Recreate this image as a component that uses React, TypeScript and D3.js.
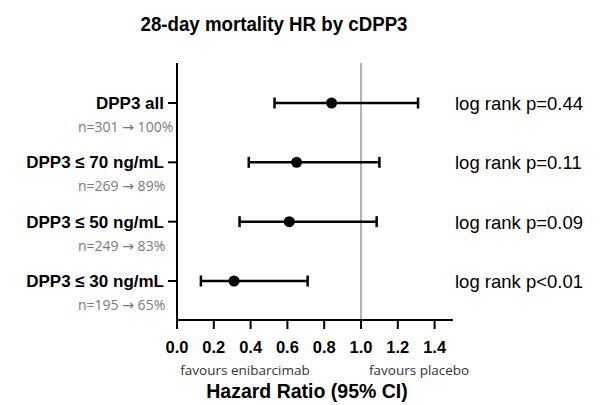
import * as d3 from "d3";
import { useEffect, useRef } from "react";

// subgroups, top to bottom
const groups = ["DPP3 all", "DPP3 ≤ 70 ng/mL", "DPP3 ≤ 50 ng/mL", "DPP3 ≤ 30 ng/mL"];
const counts = ["n=301 → 100%", "n=269 → 89%", "n=249 → 83%", "n=195 → 65%"];
const hr = [0.84, 0.65, 0.61, 0.31];
const ciLow = [0.53, 0.39, 0.34, 0.13];
const ciHigh = [1.31, 1.10, 1.085, 0.71];
const pValues = ["log rank p=0.44", "log rank p=0.11", "log rank p=0.09", "log rank p<0.01"];
const xTicks = [0, 0.2, 0.4, 0.6, 0.8, 1.0, 1.2, 1.4];

export default function App() {
  const ref = useRef<SVGSVGElement>(null);

  useEffect(() => {
    const svg = d3.select(ref.current);
    svg.selectAll("*").remove();

    const left = 177, right = 453, top = 63, bottom = 320;
    const x = d3.scaleLinear().domain([0, 1.5]).range([left, right]);
    const y = d3.scalePoint().domain(groups).range([103, 281]);
    const sans = "Liberation Sans, Arial, sans-serif";

    // title
    svg.append("text")
      .attr("x", 274).attr("y", 31)
      .attr("text-anchor", "middle")
      .attr("font-family", sans)
      .attr("font-weight", "bold").attr("font-size", 21)
      .attr("textLength", 267).attr("lengthAdjust", "spacingAndGlyphs")
      .text("28-day mortality HR by cDPP3");

    // reference line at HR = 1
    svg.append("line")
      .attr("x1", x(1)).attr("x2", x(1))
      .attr("y1", top).attr("y2", bottom)
      .attr("stroke", "#9a9a9a").attr("stroke-width", 1.5);

    // y axis
    svg.append("line")
      .attr("x1", left).attr("x2", left)
      .attr("y1", top).attr("y2", bottom + 1)
      .attr("stroke", "#000").attr("stroke-width", 2);
    svg.selectAll(".ytick").data(groups).join("line")
      .attr("x1", left - 9).attr("x2", left)
      .attr("y1", d => y(d)!).attr("y2", d => y(d)!)
      .attr("stroke", "#000").attr("stroke-width", 2);

    // x axis
    svg.append("line")
      .attr("x1", left - 1).attr("x2", right)
      .attr("y1", bottom).attr("y2", bottom)
      .attr("stroke", "#000").attr("stroke-width", 2);
    svg.selectAll(".xtick").data(xTicks).join("line")
      .attr("x1", d => x(d)).attr("x2", d => x(d))
      .attr("y1", bottom).attr("y2", bottom + 9)
      .attr("stroke", "#000").attr("stroke-width", 2);
    svg.selectAll(".xlabel").data(xTicks).join("text")
      .attr("x", d => x(d)).attr("y", 353)
      .attr("text-anchor", "middle")
      .attr("font-family", sans)
      .attr("font-weight", "bold").attr("font-size", 16.5)
      .text(d => d3.format(".1f")(d));

    svg.append("text")
      .attr("x", 245).attr("y", 375)
      .attr("text-anchor", "middle")
      .attr("font-family", "Open Sans, sans-serif")
      .attr("font-size", 13.5).attr("fill", "#333")
      .text("favours enibarcimab");
    svg.append("text")
      .attr("x", 369).attr("y", 375)
      .attr("font-family", "Open Sans, sans-serif")
      .attr("font-size", 13.5).attr("fill", "#333")
      .text("favours placebo");
    svg.append("text")
      .attr("x", 307).attr("y", 398)
      .attr("text-anchor", "middle")
      .attr("font-family", sans)
      .attr("font-weight", "bold").attr("font-size", 19.5)
      .text("Hazard Ratio (95% CI)");

    // row labels
    svg.selectAll(".glabel").data(groups).join("text")
      .attr("x", 164).attr("y", d => y(d)! + 6)
      .attr("text-anchor", "end")
      .attr("font-family", sans)
      .attr("font-weight", "bold").attr("font-size", 17)
      .text(d => d);
    const nl = svg.selectAll(".nlabel").data(counts).join("text")
      .attr("x", 78).attr("y", (d, i) => y(groups[i])! + 29)
      .attr("font-family", "Open Sans, sans-serif")
      .attr("font-size", 14).attr("fill", "#7a7a7a");
    nl.append("tspan").text(d => d.split("→")[0]);
    nl.append("tspan").attr("font-family", "DejaVu Sans").text("→");
    nl.append("tspan").text(d => d.split("→")[1]);

    // error bars
    const rows = groups.map((g, i) => ({ g, lo: ciLow[i], hi: ciHigh[i], hr: hr[i], p: pValues[i] }));
    const bars = svg.append("g");
    bars.selectAll(".ci").data(rows).join("line")
      .attr("x1", d => x(d.lo)).attr("x2", d => x(d.hi))
      .attr("y1", d => y(d.g)!).attr("y2", d => y(d.g)!)
      .attr("stroke", "#000").attr("stroke-width", 2.5);
    bars.selectAll(".capl").data(rows).join("line")
      .attr("x1", d => x(d.lo)).attr("x2", d => x(d.lo))
      .attr("y1", d => y(d.g)! - 5.5).attr("y2", d => y(d.g)! + 5.5)
      .attr("stroke", "#000").attr("stroke-width", 2.5);
    bars.selectAll(".caph").data(rows).join("line")
      .attr("x1", d => x(d.hi)).attr("x2", d => x(d.hi))
      .attr("y1", d => y(d.g)! - 5.5).attr("y2", d => y(d.g)! + 5.5)
      .attr("stroke", "#000").attr("stroke-width", 2.5);
    bars.selectAll(".pt").data(rows).join("circle")
      .attr("cx", d => x(d.hr)).attr("cy", d => y(d.g)!)
      .attr("r", 5.5).attr("fill", "#000");

    // p-values
    svg.selectAll(".plabel").data(rows).join("text")
      .attr("x", 455).attr("y", d => y(d.g)! + 7)
      .attr("font-family", sans)
      .attr("font-size", 18.5)
      .text(d => d.p);
  }, []);

  return (
    <svg ref={ref} width={603} height={405}
      style={{ position: "absolute", left: 0, top: 0, background: "#fff" }} />
  );
}
